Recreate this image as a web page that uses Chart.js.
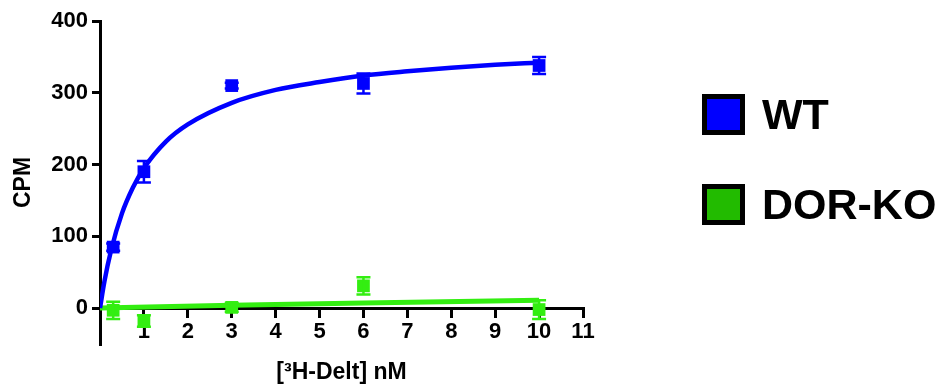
<!DOCTYPE html>
<html>
<head>
<meta charset="utf-8">
<script src="https://cdn.jsdelivr.net/npm/chart.js@4.4.1/dist/chart.umd.min.js"></script>
<style>
  html, body { margin: 0; padding: 0; background: #fff; }
  #wrap { position: relative; width: 941px; height: 392px; }
  .leg { position: absolute; left: 702px; display: flex; align-items: center;
         font-family: "Liberation Sans", Arial, sans-serif; font-weight: bold; font-size: 43px; color: #000; }
  .leg span.box { display: inline-block; width: 33px; height: 31px; border: 5px solid #000; margin-right: 17px; }
</style>
</head>
<body>
<div id="wrap">
  <canvas id="bindingChart" width="941" height="392"></canvas>
  <div class="leg" style="top:90px"><span class="box" style="background:#0000ff"></span>WT</div>
  <div class="leg" style="top:180px"><span class="box" style="background:#22bb00"></span>DOR-KO</div>
</div>
<script>
// measured points
const conc = [0.3, 1, 3, 6, 10];
const wtCpm = [85, 190, 310, 313, 338];
const wtErr = [5, 15, 4, 14, 12];
const koCpm = [-3, -18, 1, 31, -2];
const koErr = [12, 8, 6, 12, 13];

// fitted curves
const fitConc = [0, 0.1, 0.25, 0.5, 0.75, 1, 1.5, 2, 3, 4, 5, 6, 7, 8, 9, 10];
const wtFit = [0, 37, 80, 132, 168, 195, 232, 256, 286, 304, 315, 324, 330, 335, 339, 342];
const koFitConc = [0, 3, 6, 10];
const koFit = [0, 4, 7, 11];

const yTicks = [0, 100, 200, 300, 400];
const xTicks = [1, 2, 3, 4, 5, 6, 7, 8, 9, 10, 11];

const pts = (xs, ys) => xs.map((x, i) => ({ x: x, y: ys[i] }));

const errorBars = {
  id: 'errorBars',
  afterDatasetsDraw(chart) {
    const { ctx, scales: { x, y } } = chart;
    chart.data.datasets.forEach((ds, i) => {
      if (!ds.errors) return;
      ctx.save();
      ctx.strokeStyle = ds.backgroundColor;
      ctx.lineWidth = 2.5;
      ds.data.forEach((p, j) => {
        const px = x.getPixelForValue(p.x);
        const top = y.getPixelForValue(p.y + ds.errors[j]);
        const bot = y.getPixelForValue(p.y - ds.errors[j]);
        ctx.beginPath();
        ctx.moveTo(px, top); ctx.lineTo(px, bot);
        ctx.moveTo(px - 7, top); ctx.lineTo(px + 7, top);
        ctx.moveTo(px - 7, bot); ctx.lineTo(px + 7, bot);
        ctx.stroke();
      });
      ctx.restore();
    });
  }
};

const tickFont = { family: '"Liberation Sans", Arial, sans-serif', weight: 'bold', size: 22 };
const titleFont = { family: '"Liberation Sans", Arial, sans-serif', weight: 'bold', size: 23 };

new Chart(document.getElementById('bindingChart'), {
  type: 'scatter',
  data: {
    datasets: [
      { data: pts(fitConc, wtFit), showLine: true, borderColor: '#0000ff', borderWidth: 4.5,
        pointRadius: 0, cubicInterpolationMode: 'monotone' },
      { data: pts(koFitConc, koFit), showLine: true, borderColor: '#33ee11', borderWidth: 5,
        pointRadius: 0 },
      { data: pts(conc, wtCpm), errors: wtErr, pointStyle: 'rect', pointRadius: 9,
        backgroundColor: '#0000ff', borderWidth: 0 },
      { data: pts(conc, koCpm), errors: koErr, pointStyle: 'rect', pointRadius: 9,
        backgroundColor: '#33ee11', borderWidth: 0 }
    ]
  },
  options: {
    responsive: false,
    animation: false,
    layout: { padding: { top: 21, right: 358, bottom: 48, left: 0 } },
    plugins: { legend: { display: false }, tooltip: { enabled: false } },
    scales: {
      x: {
        type: 'linear',
        position: { y: 0 },
        min: 0,
        max: 11,
        afterBuildTicks: (axis) => { axis.ticks = xTicks.map(v => ({ value: v })); },
        ticks: { color: '#000', font: tickFont, padding: 3, maxRotation: 0 },
        grid: { drawOnChartArea: false, drawTicks: true, tickLength: 8, color: '#000', lineWidth: 3 },
        border: { display: true, color: '#000', width: 3 },
        title: { display: true, text: '[³H-Delt] nM', color: '#000', font: titleFont, padding: { top: 10 } }
      },
      y: {
        min: -50,
        max: 400,
        afterBuildTicks: (axis) => { axis.ticks = yTicks.map(v => ({ value: v })); },
        afterFit: (axis) => { axis.width = 100; },
        ticks: { color: '#000', font: tickFont, padding: 4 },
        grid: { drawOnChartArea: false, drawTicks: true, tickLength: 8, color: '#000', lineWidth: 3 },
        border: { display: true, color: '#000', width: 3 },
        title: { display: true, text: 'CPM', color: '#000', font: titleFont, padding: { top: 10 } }
      }
    }
  },
  plugins: [errorBars]
});
</script>
</body>
</html>
